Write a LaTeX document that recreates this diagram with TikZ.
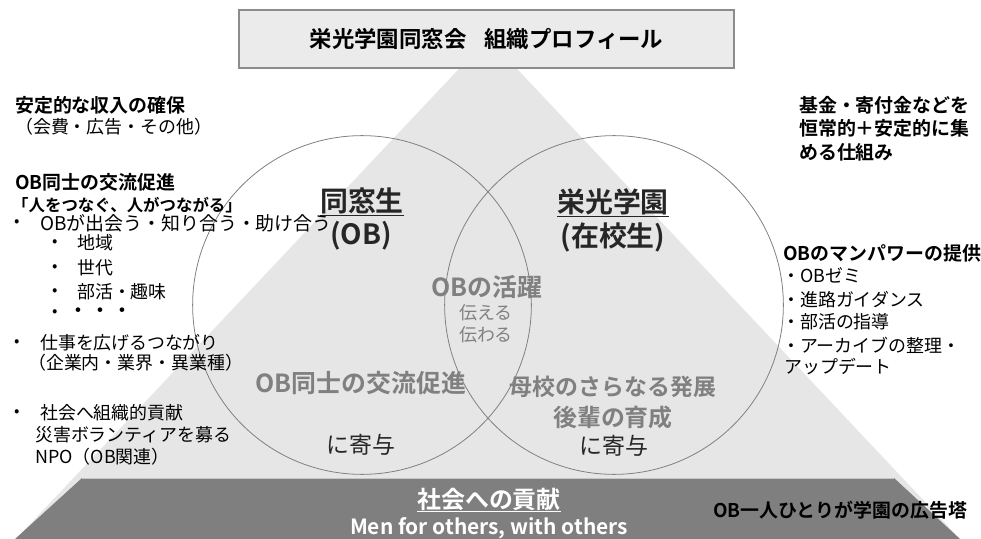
\documentclass[tikz,border=0pt]{standalone}
\usepackage{fontspec}
\setmainfont{Noto Sans CJK JP}[BoldFont=* Bold]
\usepackage{tikz}
\usetikzlibrary{positioning}

\definecolor{pyrlight}{HTML}{E6E6E6}
\definecolor{pyrdark}{HTML}{7F7F7F}
\definecolor{boxfill}{HTML}{EBEBEB}
\definecolor{boxline}{HTML}{8C8C8C}
\definecolor{softtext}{HTML}{808080}
\definecolor{darktext}{HTML}{262626}

\tikzset{
  lhead/.style={anchor=west, inner sep=0pt, font=\bfseries\fontsize{19}{22}\selectfont},
  ltext/.style={anchor=west, inner sep=0pt, font=\fontsize{18}{21}\selectfont},
  dot/.style={anchor=west, inner sep=0pt, font=\fontsize{16}{18}\selectfont},
  ring/.style={shape=circle, draw=softtext, line width=0.8pt, minimum size=340pt, inner sep=0pt},
  sidename/.style={inner sep=0pt, text=darktext, font=\bfseries\fontsize{28}{30}\selectfont},
  softbold/.style={inner sep=0pt, text=softtext, font=\bfseries\fontsize{25}{28}\selectfont},
  softtxt/.style={inner sep=0pt, text=softtext, font=\fontsize{18}{21}\selectfont},
  kiyo/.style={inner sep=0pt, text=darktext, font=\fontsize{23}{25}\selectfont}
}

\begin{document}
\begin{tikzpicture}[x=1bp, y=-1bp]
    \useasboundingbox (0,0) rectangle (981,539);

    % pyramid
    \fill[pyrlight] (488,38) -- (960,539) -- (16,539) -- cycle;
    \fill[pyrdark] (82,478) -- (894,478) -- (960,539) -- (15,539) -- cycle;
    \draw[gray!45, line width=1.5pt] (82,478.5) -- (894,478.5);

    % title
    \node[shape=rectangle, draw=boxline, fill=boxfill, line width=1.6pt,
          minimum width=497pt, minimum height=58pt,
          font=\bfseries\fontsize{22.5}{24}\selectfont] (title) at (486.5,39) {栄光学園同窓会\hspace{0.8em}組織プロフィール};

    % circles
    \node[ring] (ob) at (362,305) {};
    \node[ring] (school) at (614,305) {};

    \node[sidename] (obname) at (362,202) {\underline{同窓生}};
    \node[sidename] (obsub) at (361,236) {(OB)};
    \node[sidename] (schoolname) at (613,203) {\underline{栄光学園}};
    \node[sidename] (schoolsub) at (613,237) {(在校生)};

    \node[softbold] (active) at (487,287) {OBの活躍};
    \node[softtxt] (tell1) at (486,313) {伝える};
    \node[softtxt] (tell2) at (486,335) {伝わる};

    \node[softbold] (exchange) at (361,383) {OB同士の交流促進};
    \node[kiyo] (kiyo1) at (361,445) {に寄与};
    \node[softbold, font=\bfseries\fontsize{23}{25}\selectfont] (growth1) at (613,387) {母校のさらなる発展};
    \node[softbold, font=\bfseries\fontsize{24}{26}\selectfont] (growth2) at (613,417) {後輩の育成};
    \node[kiyo] (kiyo2) at (614,446) {に寄与};

    % left column
    \node[lhead] (income) at (15,105) {安定的な収入の確保};
    \node[ltext, font=\fontsize{18}{20}\selectfont] (incomesub) at (15,127) {（会費・広告・その他）};

    \node[lhead] (promo) at (15,182) {OB同士の交流促進};
    \node[lhead, font=\bfseries\fontsize{16.5}{20}\selectfont] (slogan) at (12,205) {「人をつなぐ、人がつながる」};
    \node[dot] (b1) at (14,223) {•};
    \node[ltext, font=\fontsize{19}{21}\selectfont] (meet) at (40,223) {OBが出会う・知り合う・助け合う};
    \node[dot] (b11) at (52,243) {•};
    \node[ltext] (area) at (77,243) {地域};
    \node[dot] (b12) at (52,268) {•};
    \node[ltext] (age) at (77,268) {世代};
    \node[dot] (b13) at (52,292) {•};
    \node[ltext] (club) at (77,292) {部活・趣味};
    \node[dot] (b14) at (52,313) {•};
    \node[ltext, font=\fontsize{22}{24}\selectfont] (more) at (67,313) {・・・};
    \node[dot] (b2) at (14,343) {•};
    \node[ltext] (work) at (40,343) {仕事を広げるつながり};
    \node[ltext] (worksub) at (28,363) {（企業内・業界・異業種）};
    \node[dot] (b3) at (14,413) {•};
    \node[ltext] (society) at (40,413) {社会へ組織的貢献};
    \node[ltext] (disaster) at (35,435) {災害ボランティアを募る};
    \node[ltext] (npo) at (35,457) {NPO（OB関連）};

    % right column
    \node[lhead] (fund1) at (799,105) {基金・寄付金などを};
    \node[lhead] (fund2) at (799,128) {恒常的＋安定的に集};
    \node[lhead] (fund3) at (799,152) {める仕組み};

    \node[lhead] (power) at (783,253) {OBのマンパワーの提供};
    \node[ltext] (seminar) at (782,275) {・OBゼミ};
    \node[ltext] (career) at (782,300) {・進路ガイダンス};
    \node[ltext] (coach) at (782,322) {・部活の指導};
    \node[ltext] (archive) at (782,345) {・アーカイブの整理・};
    \node[ltext] (update) at (784,367) {アップデート};

    \node[lhead] (ad) at (713,510) {OB一人ひとりが学園の広告塔};

    % bottom band
    \node[inner sep=0pt, text=white, font=\bfseries\fontsize{24}{26}\selectfont] (contrib) at (489,500) {\underline{社会への貢献}};
    \node[inner sep=0pt, text=white, font=\bfseries\fontsize{21}{23}\selectfont] (motto) at (489,528) {Men for others, with others};

\end{tikzpicture}
\end{document}
